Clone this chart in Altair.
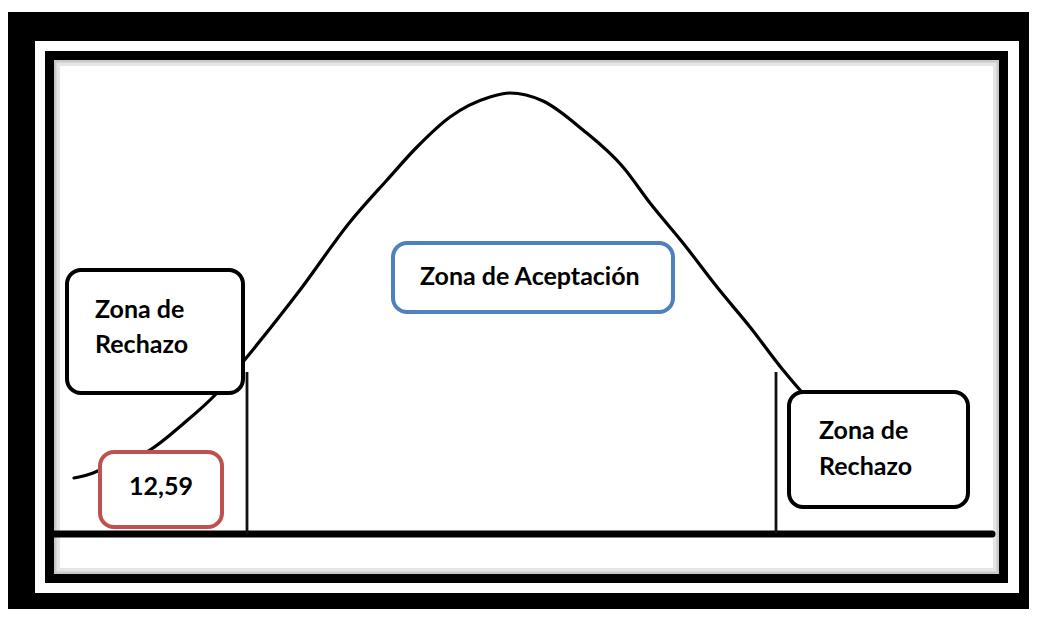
import altair as alt
import pandas as pd

# Diagram coordinates (units)
X_DOMAIN = [8, 1029]
Y_DOMAIN = [8, 609]

# Bell curve
curve_x = [74, 90, 100, 120, 150, 183, 217, 247, 300, 350, 387, 417, 450, 490, 510,
           543, 583, 623, 650, 683, 717, 750, 783, 800, 815]
curve_y = [478, 474, 470, 463, 450, 424, 393, 357, 290, 222, 180, 147, 117, 97, 93,
           101, 130, 167, 203, 243, 287, 327, 370, 390, 405]

# Critical value lines and base line
crit_x = [247, 776]
crit_top = [372, 372]
base_level = 534
base_start, base_end = 54, 992

# Frame rectangles (outer to inner)
frame_x0 = [7, 35, 45, 54]
frame_x1 = [1029, 1019, 1008, 999]
frame_y0 = [12, 41, 51, 60]
frame_y1 = [609, 593, 583, 574]
frame_fill = ["#000000", "#ffffff", "#000000", "#ffffff"]

# Label boxes
box_x0 = [67, 100, 393, 789]
box_x1 = [243, 222, 673, 968]
box_y0 = [270, 452, 243, 392]
box_y1 = [393, 527, 312, 507]
box_color = ["#000000", "#C0504D", "#4F81BD", "#000000"]

# Label texts
text_labels = ["Zona de", "Rechazo", "12,59", "Zona de Aceptación", "Zona de", "Rechazo"]
text_x = [95, 95, 161, 420, 819, 819]
text_y = [318, 353, 495, 285, 439, 475]
text_align = ["left", "left", "center", "left", "left", "left"]

xs = alt.Scale(domain=X_DOMAIN, nice=False, zero=False)
ys = alt.Scale(domain=Y_DOMAIN, nice=False, zero=False, reverse=True)

frames = pd.DataFrame(dict(x0=frame_x0, x1=frame_x1, y0=frame_y0, y1=frame_y1,
                           fill=frame_fill, order=list(range(len(frame_x0)))))
curve = pd.DataFrame(dict(x=curve_x, y=curve_y))
crit = pd.DataFrame(dict(x=crit_x, top=crit_top, bottom=[base_level] * len(crit_x)))
base = pd.DataFrame(dict(x0=[base_start], x1=[base_end], y=[base_level]))
boxes = pd.DataFrame(dict(x0=box_x0, x1=box_x1, y0=box_y0, y1=box_y1, c=box_color))
texts = pd.DataFrame(dict(t=text_labels, x=text_x, y=text_y, a=text_align))

noax = dict(axis=None)

frame_layer = alt.Chart(frames).mark_rect().encode(
    x=alt.X("x0:Q", scale=xs, **noax), x2="x1",
    y=alt.Y("y0:Q", scale=ys, **noax), y2="y1",
    fill=alt.Fill("fill:N", scale=None),
    order="order:Q",
)

shadow_outer = alt.Chart(frames.iloc[[3]]).mark_rect(
    fill="transparent", stroke="#000000", strokeOpacity=0.10, strokeWidth=12
).encode(x=alt.X("x0:Q", scale=xs, **noax), x2="x1",
         y=alt.Y("y0:Q", scale=ys, **noax), y2="y1")
shadow_inner = alt.Chart(frames.iloc[[3]]).mark_rect(
    fill="transparent", stroke="#000000", strokeOpacity=0.12, strokeWidth=5
).encode(x=alt.X("x0:Q", scale=xs, **noax), x2="x1",
         y=alt.Y("y0:Q", scale=ys, **noax), y2="y1")

base_layer = alt.Chart(base).mark_rule(color="black", strokeWidth=7, strokeCap="round").encode(
    x=alt.X("x0:Q", scale=xs, **noax), x2="x1",
    y=alt.Y("y:Q", scale=ys, **noax),
)

crit_layer = alt.Chart(crit).mark_rule(color="#111111", strokeWidth=2.8).encode(
    x=alt.X("x:Q", scale=xs, **noax),
    y=alt.Y("top:Q", scale=ys, **noax), y2="bottom",
)

curve_layer = alt.Chart(curve).mark_line(
    color="black", strokeWidth=3.2, interpolate="monotone", strokeCap="round"
).encode(
    x=alt.X("x:Q", scale=xs, **noax),
    y=alt.Y("y:Q", scale=ys, **noax),
)

box_layer = alt.Chart(boxes).mark_rect(
    fill="white", strokeWidth=4, cornerRadius=14
).encode(
    x=alt.X("x0:Q", scale=xs, **noax), x2="x1",
    y=alt.Y("y0:Q", scale=ys, **noax), y2="y1",
    stroke=alt.Stroke("c:N", scale=None),
)

def text_layer(align):
    return alt.Chart(texts[texts.a == align]).mark_text(
        font="Lato", fontWeight="bold", fontSize=25, color="black",
        align=align, baseline="alphabetic"
    ).encode(
        x=alt.X("x:Q", scale=xs, **noax),
        y=alt.Y("y:Q", scale=ys, **noax),
        text="t:N",
    )

chart = alt.layer(
    frame_layer, shadow_outer, shadow_inner, base_layer, crit_layer, curve_layer,
    box_layer, text_layer("left"), text_layer("center"),
).properties(
    width=X_DOMAIN[1] - X_DOMAIN[0],
    height=Y_DOMAIN[1] - Y_DOMAIN[0],
    autosize=alt.AutoSizeParams(type="none"),
    padding=0,
).configure_view(stroke=None)

chart.save("out.html", embed_options={"renderer": "svg", "actions": False})
